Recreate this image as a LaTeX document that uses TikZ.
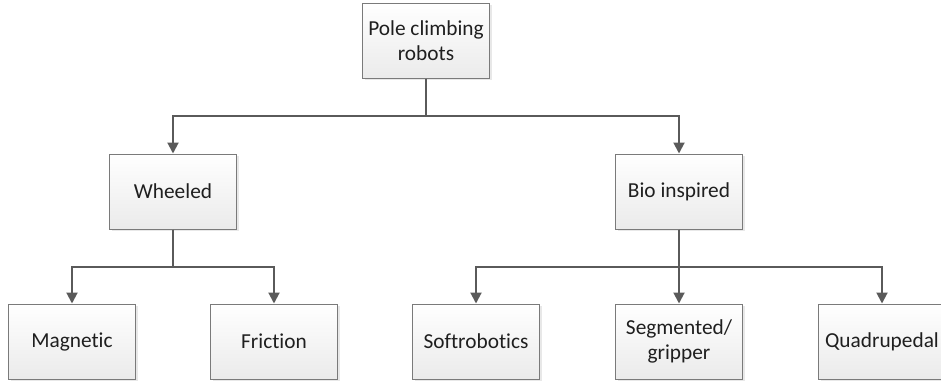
\documentclass[tikz,border=0pt]{standalone}
\usepackage{fontspec}
\setmainfont[RawFeature={-liga;-dlig;-clig}]{Carlito}
\usetikzlibrary{arrows.meta,shadows}
\definecolor{linegray}{HTML}{5A5A5A}
\definecolor{boxgray}{HTML}{7A7A7A}
\tikzset{
  catbox/.style={draw=boxgray, line width=0.75pt, rectangle,
    top color=white, bottom color=gray!16,
    minimum width=95.25pt, minimum height=56.25pt,
    align=center, text=black!88,
    font=\fontsize{16}{18.75}\selectfont,
    drop shadow={shadow xshift=1.5pt, shadow yshift=-1.5pt, fill=gray!30, opacity=0.6}},
  link/.style={draw=linegray, line width=1.5pt,
    -{Triangle[length=8.25pt,width=8.25pt]}}
}
\begin{document}
\begin{tikzpicture}[x=0.75pt,y=-0.75pt]
        \useasboundingbox (0,0) rectangle (941,382);

        \node[catbox] (root) at (426,40.5) {Pole climbing\\robots};

        \node[catbox] (wheeled) at (173,191.5) {Wheeled};
        \node[catbox] (bio) at (679,191.5) {Bio inspired};

        \node[catbox] (magnetic) at (72,341.5) {Magnetic};
        \node[catbox] (friction) at (274,341.5) {Friction};
        \node[catbox] (soft) at (476,341.5) {Softrobotics};
        \node[catbox] (segmented) at (679,341.5) {Segmented/\\gripper};
        \node[catbox] (quad) at (882,341.5) {Quadrupedal};

        \coordinate (busA) at (0,116);
        \coordinate (busB) at (0,266.5);

        \draw[link] (root.south) -- (root.south |- busA) -| (wheeled.north);
        \draw[link] (root.south) -- (root.south |- busA) -| (bio.north);

        \draw[link] (wheeled.south) -- (wheeled.south |- busB) -| (magnetic.north);
        \draw[link] (wheeled.south) -- (wheeled.south |- busB) -| (friction.north);

        \draw[link] (bio.south) -- (bio.south |- busB) -| (soft.north);
        \draw[link] (bio.south) -- (segmented.north);
        \draw[link] (bio.south) -- (bio.south |- busB) -| (quad.north);
      \end{tikzpicture}
\end{document}
